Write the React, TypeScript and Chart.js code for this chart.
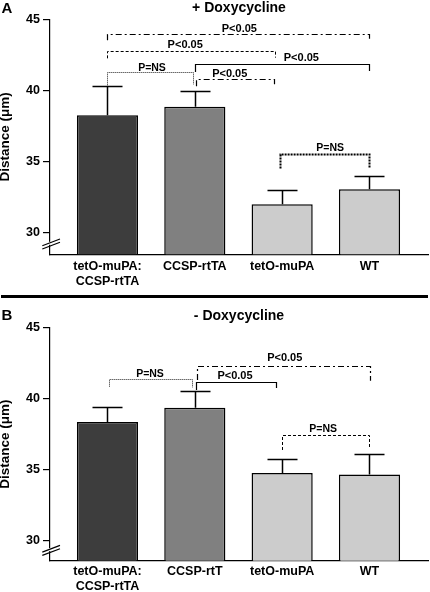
import React, { useEffect, useRef } from 'react';
import { Chart, registerables } from 'chart.js';

Chart.register(...registerables);

const FONT = "'Liberation Sans', Arial, Helvetica, sans-serif";

// ---------- data ----------
const categoriesA: (string | string[])[] = [['tetO-muPA:', 'CCSP-rtTA'], 'CCSP-rtTA', 'tetO-muPA', 'WT'];
const meansA = [38.25, 38.85, 31.97, 33.03];
const errorsA = [2.05, 1.1, 1.03, 0.95];

const categoriesB: (string | string[])[] = [['tetO-muPA:', 'CCSP-rtTA'], 'CCSP-rtT', 'tetO-muPA', 'WT'];
const meansB = [38.35, 39.35, 34.74, 34.65];
const errorsB = [1.02, 1.16, 1.03, 1.42];

const yTickValues = [30, 35, 40, 45];
const barColors = ['#3d3d3d', '#808080', '#cccccc', '#cccccc'];

const letterA = 'A';
const titleA = '+ Doxycycline';
const letterB = 'B';
const titleB = '- Doxycycline';
const yAxisTitle = 'Distance (μm)';

// significance brackets (x in category units, y in µm)
type Bracket = { label: string; x1: number; x2: number; y: number; e1: number; e2: number; lx: number; ly: number; style: string };
const bracketsA: Bracket[] = [
  { label: 'P<0.05', x1: 0, x2: 2.99, y: 43.98, e1: 43.52, e2: 43.52, lx: 1.51, ly: 44.11, style: 'dashdot' },
  { label: 'P<0.05', x1: 0, x2: 1.92, y: 42.75, e1: 42.25, e2: 42.3, lx: 0.89, ly: 42.98, style: 'dashed' },
  { label: 'P=NS', x1: -0.01, x2: 0.976, y: 41.29, e1: 40.35, e2: 40.42, lx: 0.51, ly: 41.39, style: 'dotted' },
  { label: 'P<0.05', x1: 1.0, x2: 3.0, y: 41.85, e1: 41.29, e2: 41.36, lx: 2.22, ly: 42.06, style: 'solid' },
  { label: 'P<0.05', x1: 1.01, x2: 1.91, y: 40.77, e1: 40.28, e2: 40.42, lx: 1.4, ly: 40.94, style: 'dashdot' },
  { label: 'P=NS', x1: 1.98, x2: 2.99, y: 35.49, e1: 34.5, e2: 34.5, lx: 2.55, ly: 35.73, style: 'boldDotted' },
];
const bracketsB: Bracket[] = [
  { label: 'P=NS', x1: 0.017, x2: 0.964, y: 41.36, e1: 40.84, e2: 40.77, lx: 0.487, ly: 41.52, style: 'dotted' },
  { label: 'P<0.05', x1: 1.02, x2: 3.01, y: 42.3, e1: 41.31, e2: 41.26, lx: 2.03, ly: 42.67, style: 'dashdot' },
  { label: 'P<0.05', x1: 1.01, x2: 1.93, y: 41.15, e1: 40.6, e2: 40.74, lx: 1.46, ly: 41.38, style: 'solid' },
  { label: 'P=NS', x1: 1.995, x2: 3.0, y: 37.43, e1: 36.37, e2: 36.51, lx: 2.47, ly: 37.64, style: 'dashed' },
];

const lineStyles: Record<string, { dash: number[]; width: number; color: string }> = {
  solid: { dash: [], width: 1.2, color: '#000' },
  dashed: { dash: [3, 2], width: 1, color: '#000' },
  dashdot: { dash: [6, 3, 2, 3], width: 1.2, color: '#000' },
  dotted: { dash: [1, 1], width: 1, color: '#222' },
  boldDotted: { dash: [2, 1], width: 2, color: '#000' },
};

type PanelCfg = {
  categories: (string | string[])[];
  means: number[];
  errors: number[];
  brackets: Bracket[];
  letter: string;
  title: string;
  yMin: number;
  padTop: number;
  xAxisHeight: number;
  labelPad: number;
  letterBaseline: number;
  titleBaseline: number;
  height: number;
};

function buildConfig(p: PanelCfg): any {
  const overlay = {
    id: 'overlay',
    afterDatasetsDraw(chart: any) {
      const ctx = chart.ctx;
      const xs = chart.scales.x;
      const ys = chart.scales.y;
      ctx.save();
      // error bars
      ctx.strokeStyle = '#000';
      ctx.lineWidth = 1.5;
      ctx.setLineDash([]);
      p.means.forEach((m, i) => {
        const x = Math.round(xs.getPixelForValue(i)) + 0.5;
        const y0 = ys.getPixelForValue(m);
        const y1 = Math.round(ys.getPixelForValue(m + p.errors[i])) + 0.5;
        ctx.beginPath();
        ctx.moveTo(x, y0);
        ctx.lineTo(x, y1);
        ctx.moveTo(x - 15, y1);
        ctx.lineTo(x + 15, y1);
        ctx.stroke();
      });
      // brackets
      p.brackets.forEach((b) => {
        const st = lineStyles[b.style];
        const x1 = Math.round(xs.getPixelForValue(b.x1)) + 0.5;
        const x2 = Math.round(xs.getPixelForValue(b.x2)) + 0.5;
        const y = Math.round(ys.getPixelForValue(b.y)) + 0.5;
        ctx.strokeStyle = st.color;
        ctx.lineWidth = st.width;
        ctx.setLineDash(st.dash);
        ctx.beginPath();
        ctx.moveTo(x1, ys.getPixelForValue(b.e1));
        ctx.lineTo(x1, y);
        ctx.lineTo(x2, y);
        ctx.lineTo(x2, ys.getPixelForValue(b.e2));
        ctx.stroke();
        ctx.setLineDash([]);
        ctx.fillStyle = '#000';
        ctx.font = `bold ${b.label === 'P=NS' ? 10.5 : 11}px ${FONT}`;
        ctx.textAlign = 'center';
        ctx.textBaseline = 'alphabetic';
        ctx.fillText(b.label, xs.getPixelForValue(b.lx), ys.getPixelForValue(b.ly));
      });
      ctx.restore();
    },
    afterDraw(chart: any) {
      const ctx = chart.ctx;
      const { left, right, bottom } = chart.chartArea;
      ctx.save();
      // axis break marks: white gap on the axis, then two slanted strokes
      ctx.fillStyle = '#fff';
      ctx.fillRect(left - 2, bottom - 12.5, 4, 3);
      ctx.strokeStyle = '#000';
      ctx.lineWidth = 1.2;
      ctx.beginPath();
      ctx.moveTo(left - 7.7, bottom - 8.6);
      ctx.lineTo(left + 10, bottom - 15.3);
      ctx.moveTo(left - 7.7, bottom - 5.3);
      ctx.lineTo(left + 10, bottom - 12);
      ctx.stroke();
      // panel letter and title
      ctx.fillStyle = '#000';
      ctx.textBaseline = 'alphabetic';
      ctx.textAlign = 'left';
      ctx.font = `bold 15px ${FONT}`;
      ctx.fillText(p.letter, 1.5, p.letterBaseline);
      ctx.textAlign = 'center';
      ctx.font = `bold 14px ${FONT}`;
      ctx.fillText(p.title, (left + right) / 2, p.titleBaseline);
      ctx.restore();
    },
  };

  return {
    type: 'bar',
    data: {
      datasets: [
        {
          data: p.means.map((v, i) => ({ x: i, y: v })),
          backgroundColor: barColors,
          borderColor: '#000',
          borderWidth: 1.5,
          barPercentage: 0.7,
          categoryPercentage: 1,
        },
      ],
    },
    options: {
      responsive: false,
      animation: false,
      layout: { padding: { top: p.padTop, right: 2, left: 0, bottom: 0 } },
      plugins: { legend: { display: false }, tooltip: { enabled: false }, title: { display: false } },
      scales: {
        x: {
          type: 'linear',
          offset: false,
          min: -0.658,
          max: 3.67,
          afterBuildTicks: (s: any) => {
            s.ticks = p.categories.map((_, i) => ({ value: i }));
          },
          afterFit: (s: any) => {
            s.height = p.xAxisHeight;
          },
          ticks: {
            callback: (v: number) => p.categories[v],
            font: { family: FONT, size: 12.5, weight: 'bold', lineHeight: 1.2 },
            color: '#000',
            padding: p.labelPad,
            autoSkip: false,
            maxRotation: 0,
          },
          grid: { display: true, offset: false, drawOnChartArea: false, drawTicks: false },
          border: { display: true, color: '#000', width: 1.2 },
        },
        y: {
          min: p.yMin,
          max: 45,
          afterBuildTicks: (s: any) => {
            s.ticks = yTickValues.map((v) => ({ value: v }));
          },
          afterFit: (s: any) => {
            s.width = 50;
          },
          ticks: {
            font: { family: FONT, size: 12.5, weight: 'bold' },
            color: '#000',
            padding: 3,
          },
          grid: { display: true, drawOnChartArea: false, drawTicks: true, tickLength: 7, color: '#000', lineWidth: 1.2 },
          border: { display: true, color: '#000', width: 1.2 },
          title: {
            display: true,
            text: yAxisTitle,
            color: '#000',
            font: { family: FONT, size: 13.5, weight: 'bold', lineHeight: 0.85 },
            padding: 0,
          },
        },
      },
    },
    plugins: [overlay],
  };
}

function Panel({ cfg }: { cfg: PanelCfg }) {
  const ref = useRef<HTMLCanvasElement>(null);
  useEffect(() => {
    const chart = new Chart(ref.current as HTMLCanvasElement, buildConfig(cfg));
    return () => chart.destroy();
  }, []);
  return <canvas ref={ref} width={430} height={cfg.height} style={{ display: 'block' }} />;
}

const panelA: PanelCfg = {
  categories: categoriesA,
  means: meansA,
  errors: errorsA,
  brackets: bracketsA,
  letter: letterA,
  title: titleA,
  yMin: 28.45,
  padTop: 19.3,
  xAxisHeight: 40.7,
  labelPad: 4.5,
  letterBaseline: 13,
  titleBaseline: 11.5,
  height: 295,
};

const panelB: PanelCfg = {
  categories: categoriesB,
  means: meansB,
  errors: errorsB,
  brackets: bracketsB,
  letter: letterB,
  title: titleB,
  yMin: 28.56,
  padTop: 29.7,
  xAxisHeight: 31.3,
  labelPad: 3,
  letterBaseline: 22,
  titleBaseline: 21.5,
  height: 294,
};

export default function App() {
  return (
    <div style={{ position: 'absolute', left: 0, top: 0, width: 430, height: 592, background: '#fff' }}>
      <div style={{ position: 'absolute', left: 0, top: 0 }}>
        <Panel cfg={panelA} />
      </div>
      <div style={{ position: 'absolute', left: 1, top: 295, width: 427, height: 3, background: '#000' }} />
      <div style={{ position: 'absolute', left: 0, top: 298 }}>
        <Panel cfg={panelB} />
      </div>
    </div>
  );
}
